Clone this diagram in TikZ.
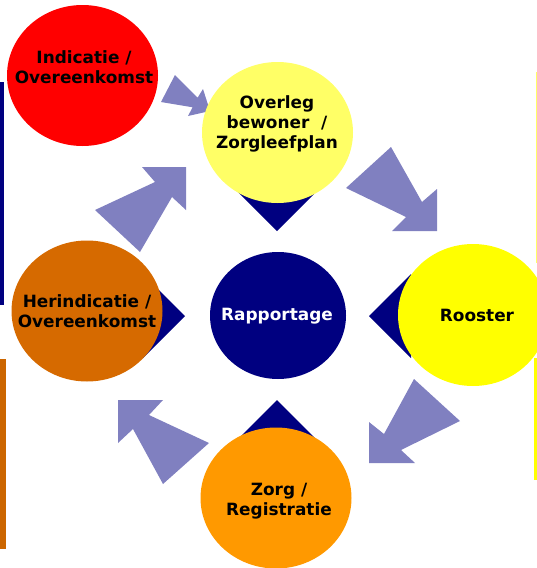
\documentclass[tikz,border=0pt]{standalone}
\usepackage{fontspec}
\setmainfont{DejaVu Sans}
\usetikzlibrary{shapes.geometric}
\definecolor{navy}{RGB}{0,0,128}
\definecolor{arrowblue}{RGB}{128,128,192}
\definecolor{redc}{RGB}{255,0,0}
\definecolor{lightyel}{RGB}{255,255,102}
\definecolor{brightyel}{RGB}{255,255,0}
\definecolor{orangec}{RGB}{255,153,0}
\definecolor{brownc}{RGB}{214,106,0}
\definecolor{barbrown}{RGB}{204,102,0}
\tikzset{
  bubble/.style={ellipse, inner sep=0pt, minimum width=151pt, minimum height=141pt, draw=none},
  label/.style={align=center, font=\fontsize{16.9}{20}\selectfont\bfseries, text=black, inner sep=0pt},
  blockarrow/.style={fill=arrowblue, draw=none},
  wedge/.style={fill=navy, draw=none}
}
\begin{document}
\begin{tikzpicture}[x=1pt, y=-1pt]
\useasboundingbox (0,0) rectangle (537,568);
\clip (0,0) rectangle (537,568);
% side bars
\fill[navy] (0,82) rectangle (4.3,305);
\fill[barbrown] (0,359) rectangle (6,549);
\fill[lightyel] (535.6,72) rectangle (537,263);
\fill[brightyel] (534,358) rectangle (537,480);
% block arrows
\fill[blockarrow] (161,102) -- (175,75) -- (197.6,97.7) -- (203,89) -- (210,111) -- (188,116) -- (192.6,107.3) -- cycle;
\fill[blockarrow] (95,210) -- (155,182) -- (142,167) -- (186,167) -- (186,210) -- (172,197) -- (140,252) -- cycle;
\fill[blockarrow] (346,188) -- (391,147) -- (422,202) -- (437,189) -- (437,231) -- (392,231) -- (406,217) -- cycle;
\fill[blockarrow] (414,379) -- (460,421) -- (401,450) -- (415,463) -- (369,463) -- (369,422) -- (384,434) -- cycle;
\fill[blockarrow] (209,443) -- (163,484) -- (133,429) -- (118,443) -- (118,400) -- (163,400) -- (149,415) -- cycle;
% navy wedges
\fill[wedge] (277,231) -- (235,189) -- (319,189) -- cycle;
\fill[wedge] (369,316) -- (411,274) -- (411,358) -- cycle;
\fill[wedge] (277,400) -- (235,442) -- (319,442) -- cycle;
\fill[wedge] (185,316) -- (143,274) -- (143,358) -- cycle;
% bubbles
\node[bubble, fill=redc] (ind) at (82.5,75.5) {};
\node[bubble, fill=lightyel] (ovl) at (277.5,132.5) {};
\node[bubble, fill=brownc] (her) at (87,311) {};
\node[bubble, fill=navy, minimum width=136pt, minimum height=127pt] (rap) at (278,315.5) {};
\node[bubble, fill=brightyel, minimum width=150pt, minimum height=142pt] (roo) at (473,315) {};
\node[bubble, fill=orangec] (zrg) at (276,498) {};
% texts
\node[label] (indt) at (84,67) {Indicatie /\\Overeenkomst};
\node[label] (ovlt) at (277,124) {Overleg\\bewoner\ \ /\\Zorgleefplan};
\node[label] (hert) at (87,311) {Herindicatie /\\Overeenkomst};
\node[label, text=white] (rapt) at (277,316) {Rapportage};
\node[label] (root) at (477,315) {Rooster};
\node[label] (zrgt) at (279,501) {Zorg /\\Registratie};
\end{tikzpicture}
\end{document}
